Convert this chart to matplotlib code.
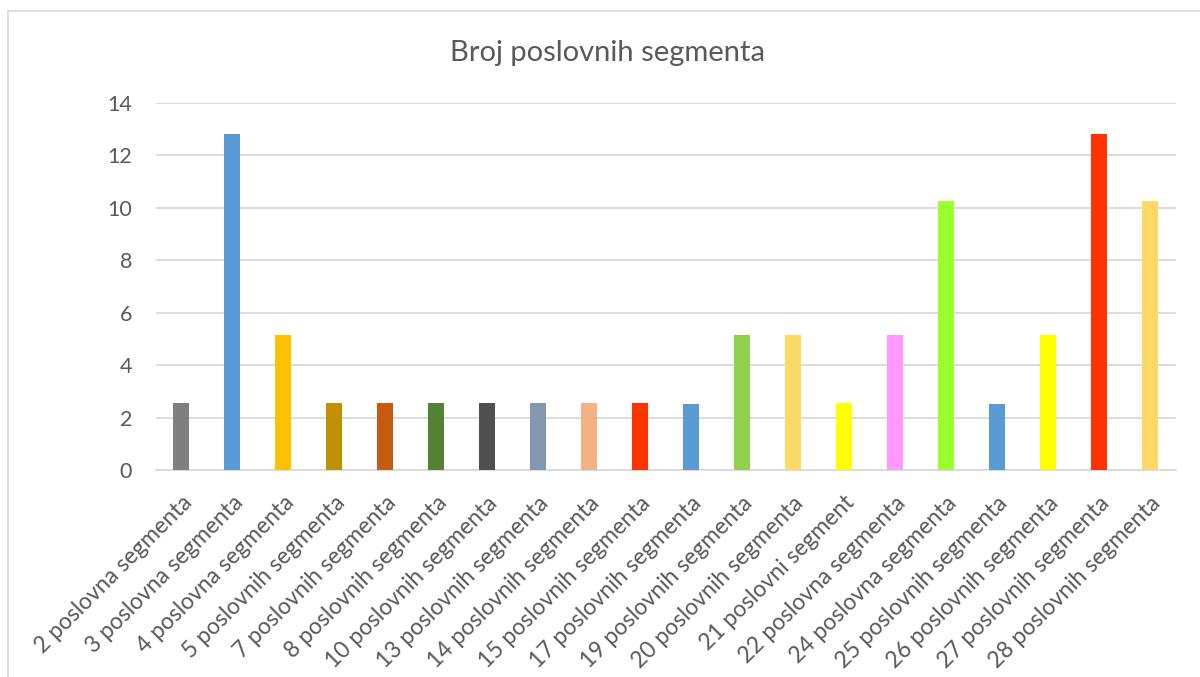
import matplotlib
matplotlib.use("Agg")
import matplotlib.pyplot as plt
from matplotlib.patches import Rectangle

categories = ["2 poslovna segmenta", "3 poslovna segmenta", "4 poslovna segmenta",
              "5 poslovnih segmenta", "7 poslovnih segmenta", "8 poslovnih segmenta",
              "10 poslovnih segmenta", "13 poslovnih segmenta", "14 poslovnih segmenta",
              "15 poslovnih segmenta", "17 poslovnih segmenta", "19 poslovnih segmenta",
              "20 poslovnih segmenta", "21 poslovni segment", "22 poslovna segmenta",
              "24 poslovna segmenta", "25 poslovnih segmenta", "26 poslovnih segmenta",
              "27 poslovnih segmenta", "28 poslovnih segmenta"]
values = [2.56, 12.82, 5.13, 2.56, 2.56, 2.56, 2.56, 2.56, 2.56, 2.56,
          2.53, 5.13, 5.13, 2.56, 5.13, 10.26, 2.53, 5.13, 12.82, 10.26]
colors = ["#7f7f7f", "#5b9bd5", "#ffc000", "#bf9000", "#c55a11", "#548235",
          "#505050", "#8497b0", "#f4b183", "#ff3300", "#5b9bd5", "#92d050",
          "#ffd966", "#ffff00", "#ff99ff", "#99ff33", "#5b9bd5", "#ffff00",
          "#ff3300", "#ffd966"]
yticks = [0, 2, 4, 6, 8, 10, 12, 14]
title = "Broj poslovnih segmenta"

plt.rcParams['font.family'] = ['Lato', 'DejaVu Sans']
txt = "#595959"

fig = plt.figure(figsize=(12, 6.77), dpi=100)
ax = fig.add_axes([0.1296, 0.3058, 0.85, 0.5421])
x = list(range(len(categories)))
ax.bar(x, values, width=0.31, color=colors, zorder=3)
ax.set_xlim(-0.5, len(categories) - 0.5)
ax.set_ylim(0, 14)
ax.set_yticks(yticks)
ax.set_yticklabels([str(t) for t in yticks], fontsize=15.5, color=txt)
ax.set_xticks(x)
ax.set_xticklabels(categories, rotation=45, ha="right", rotation_mode="anchor",
                   fontsize=16.5, color=txt)
ax.tick_params(axis="both", length=0)
ax.tick_params(axis="y", pad=17)
ax.tick_params(axis="x", pad=16)
ax.grid(axis="y", color="#d9d9d9", linewidth=1.3, zorder=0)
for s in ["top", "right", "left"]:
    ax.spines[s].set_visible(False)
ax.spines["bottom"].set_color("#d9d9d9")
ax.spines["bottom"].set_linewidth(1.3)
fig.text(0.506, 0.922, title, ha="center", va="center", fontsize=21, color=txt)
fig.patches.append(Rectangle((8/1200, -0.01), 1.02, 1 - 11/677 + 0.01,
                             transform=fig.transFigure, fill=False,
                             edgecolor="#d9d9d9", linewidth=1.2))
fig.savefig("out.png", dpi=100)
